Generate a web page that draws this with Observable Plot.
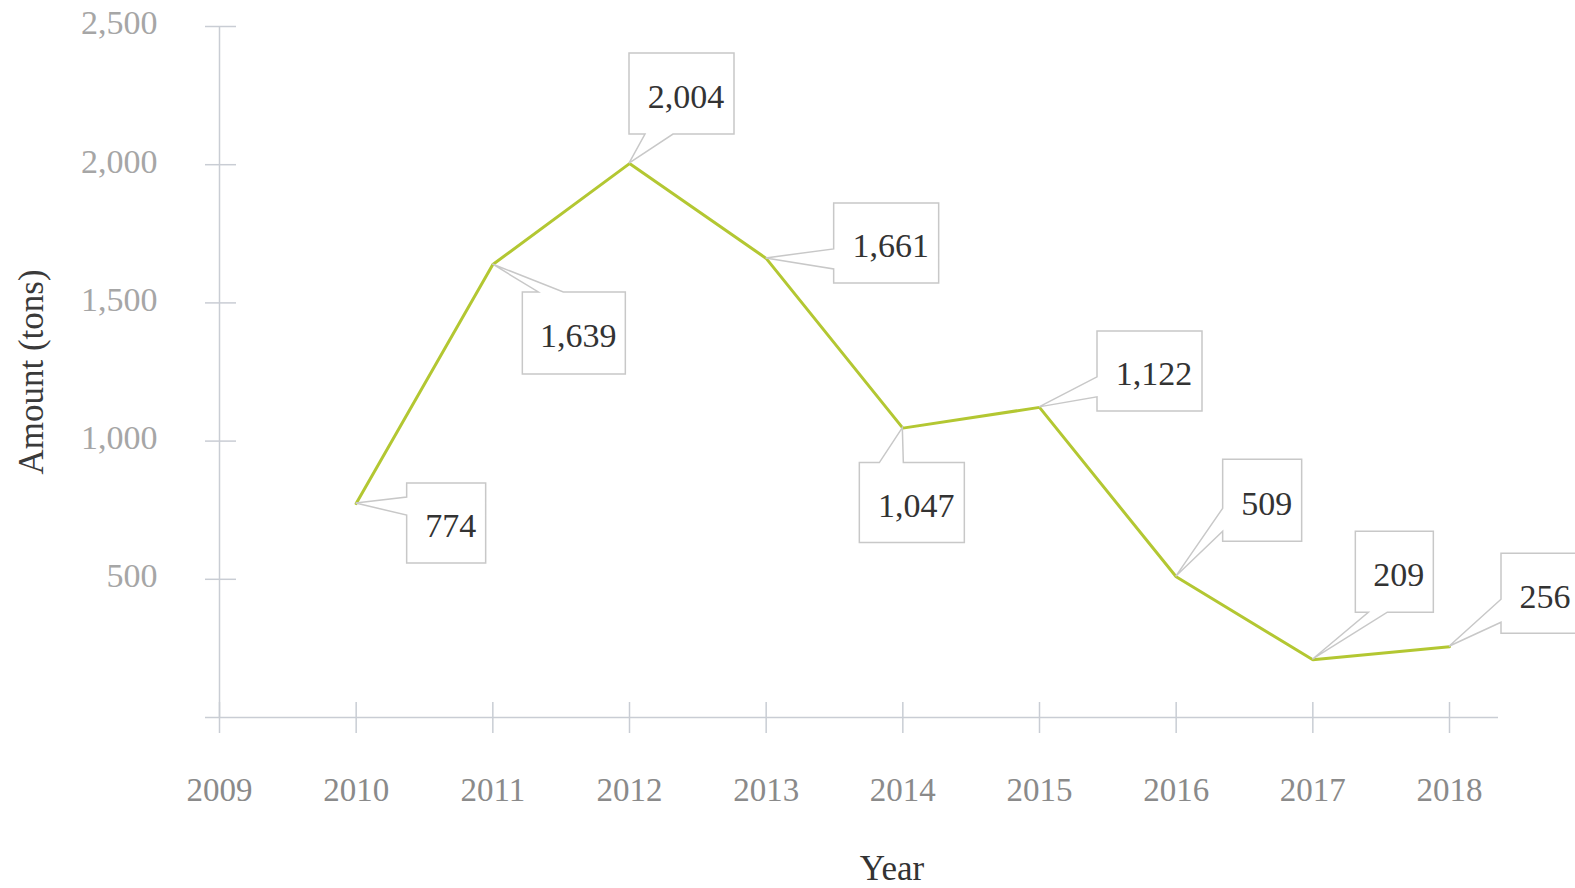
<!DOCTYPE html>
<html>
<head>
<meta charset="utf-8">
<script src="https://cdn.jsdelivr.net/npm/d3@7"></script>
<script src="https://cdn.jsdelivr.net/npm/@observablehq/plot@0.6"></script>
<style>
  html, body { margin: 0; padding: 0; background: #fff; overflow: hidden; }
  #chart svg { display: block; }
</style>
</head>
<body>
<div id="chart"></div>
<script>
// ---- data ----
const years = [2010, 2011, 2012, 2013, 2014, 2015, 2016, 2017, 2018];
const amounts = [774, 1639, 2004, 1661, 1047, 1122, 509, 209, 256];
const xTicks = [2009, 2010, 2011, 2012, 2013, 2014, 2015, 2016, 2017, 2018];
const yTicks = [500, 1000, 1500, 2000, 2500];
const xTitle = "Year";
const yTitle = "Amount (tons)";

// ---- callout placement (pixel offsets from each point; layout only) ----
const calloutLayout = [
  {side: "left",   dx: 51,  dy: -20,  w: 79,  h: 80, a: 14, b: 32},
  {side: "top",    dx: 30,  dy: 28,   w: 103, h: 82, a: 16, b: 41},
  {side: "bottom", dx: 0,   dy: -110, w: 105, h: 81, a: 16, b: 44},
  {side: "left",   dx: 68,  dy: -55,  w: 105, h: 80, a: 46, b: 66},
  {side: "top",    dx: -43, dy: 35,   w: 105, h: 80, a: 20, b: 44},
  {side: "left",   dx: 58,  dy: -76,  w: 105, h: 80, a: 46, b: 66},
  {side: "left",   dx: 47,  dy: -117, w: 79,  h: 82, a: 49, b: 72},
  {side: "bottom", dx: 43,  dy: -128, w: 78,  h: 81, a: 13, b: 32},
  {side: "left",   dx: 52,  dy: -93,  w: 79,  h: 80, a: 46, b: 69}
];

const rows = years.map((year, i) => ({year, amount: amounts[i]}));
const fmt = d3.format(",");
const serif = "Liberation Serif, Times New Roman, serif";
const axisColor = "#c9cdd4";

function calloutMark(index, scales) {
  const g = d3.create("svg:g");
  rows.forEach((r, i) => {
    const L = calloutLayout[i];
    const px = scales.x(r.year), py = scales.y(r.amount);
    const x0 = px + L.dx, y0 = py + L.dy, w = L.w, h = L.h;
    const pts = [[x0, y0]];
    if (L.side === "top") pts.push([x0 + L.a, y0], [px, py], [x0 + L.b, y0]);
    pts.push([x0 + w, y0], [x0 + w, y0 + h]);
    if (L.side === "bottom") pts.push([x0 + L.b, y0 + h], [px, py], [x0 + L.a, y0 + h]);
    pts.push([x0, y0 + h]);
    if (L.side === "left") pts.push([x0, y0 + L.b], [px, py], [x0, y0 + L.a]);
    g.append("path")
      .attr("d", "M" + pts.map(p => p.join(",")).join("L") + "Z")
      .attr("fill", "#fff")
      .attr("stroke", "#c8c8c8")
      .attr("stroke-width", 1.5)
      .attr("stroke-linejoin", "miter");
  });
  return g.node();
}

const calloutTexts = rows.map((r, i) => {
  const L = calloutLayout[i];
  return Plot.text([r], {
    x: "year", y: "amount", text: d => fmt(d.amount),
    dx: L.dx + L.w / 2 + 4, dy: L.dy + L.h / 2 + 3,
    fontSize: 34, fontFamily: serif, fill: "#333"
  });
});

const chart = Plot.plot({
  width: 1575,
  height: 888,
  marginLeft: 205,
  marginRight: 77,
  marginTop: 26,
  marginBottom: 171,
  style: {background: "#fff", fontFamily: serif},
  x: {domain: [xTicks[0], xTicks[xTicks.length - 1]], insetLeft: 14, insetRight: 49, axis: null},
  y: {domain: [0, yTicks[yTicks.length - 1]], axis: null},
  marks: [
    // axis lines
    Plot.ruleY([0], {stroke: axisColor, strokeWidth: 1.5}),
    Plot.ruleX([xTicks[0]], {y1: 0, y2: yTicks[yTicks.length - 1], stroke: axisColor, strokeWidth: 1.5}),
    // y ticks (crossing the axis)
    Plot.ruleY(yTicks, {x1: xTicks[0], x2: xTicks[0], insetLeft: -14, insetRight: -17, stroke: axisColor, strokeWidth: 1.5}),
    // x ticks (crossing the axis)
    Plot.ruleX(xTicks, {y1: 0, y2: 0, insetTop: -15, insetBottom: -16, stroke: axisColor, strokeWidth: 1.5}),
    // tick labels
    Plot.text(yTicks, {x: xTicks[0], y: d => d, text: d => fmt(d), textAnchor: "end", dx: -62, dy: -3,
      fontSize: 34, fontFamily: serif, fill: "#a6a6a6"}),
    Plot.text(xTicks, {x: d => d, y: 0, text: d => String(d), dy: 73,
      fontSize: 33, fontFamily: serif, fill: "#8a8a8a"}),
    // axis titles
    Plot.text([yTitle], {frameAnchor: "left", text: d => d, rotate: -90, dx: -174, textAnchor: "middle", lineAnchor: "middle",
      fontSize: 35, fontFamily: serif, fill: "#3a3a3a"}),
    Plot.text([xTitle], {frameAnchor: "bottom", text: d => d, dx: 40, dy: 151, textAnchor: "middle", lineAnchor: "middle",
      fontSize: 35, fontFamily: serif, fill: "#333"}),
    // data line
    Plot.line(rows, {x: "year", y: "amount", stroke: "#b3c732", strokeWidth: 3, strokeLinejoin: "miter"}),
    // callouts
    calloutMark,
    ...calloutTexts
  ]
});

document.getElementById("chart").appendChild(chart);
</script>
</body>
</html>
